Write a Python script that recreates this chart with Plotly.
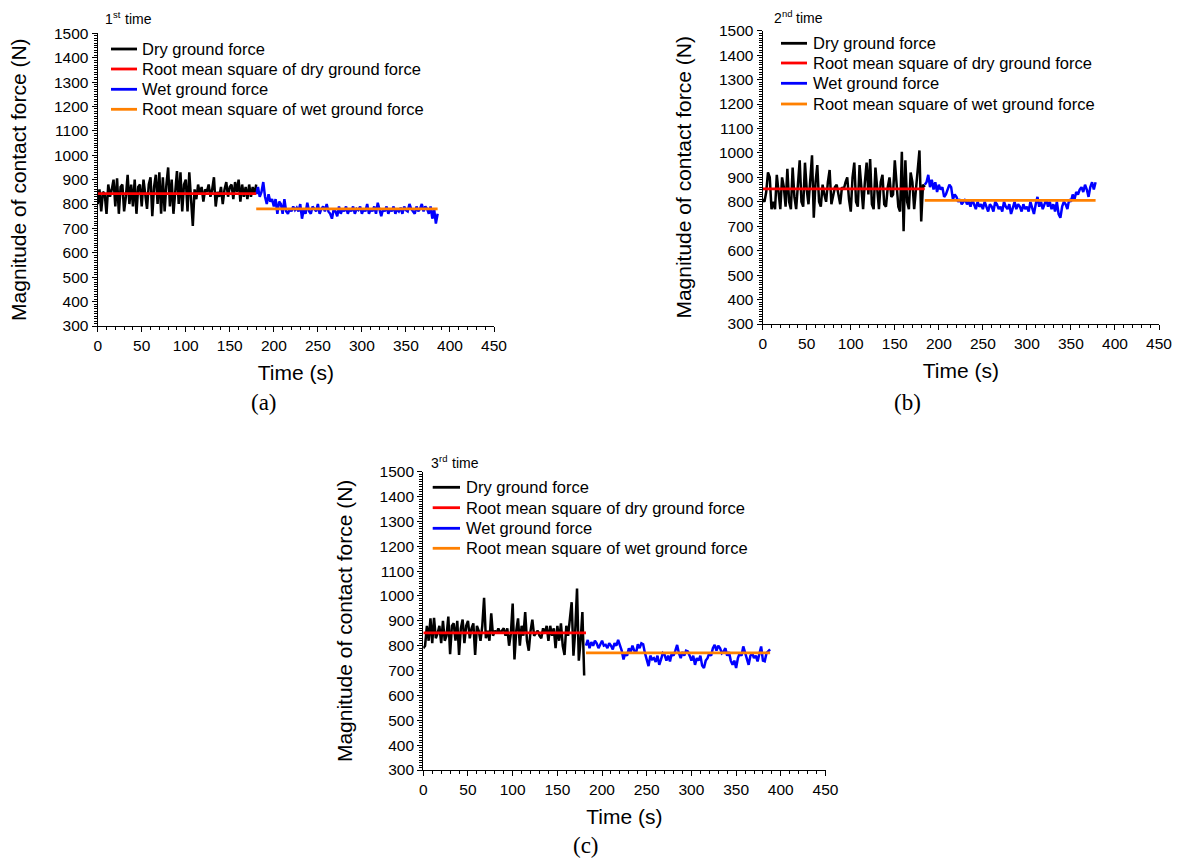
import plotly.graph_objects as go

W, H = 1180, 862
STEP = 2  # sampling interval of the force records (s)

# ---------------- 1st time ----------------
A_DRY_START = 0
A_DRY = [800, 860, 770, 850, 840, 760, 880, 830, 860, 900,
         790, 905, 760, 870, 880, 770, 830, 920, 800, 880,
         790, 900, 760, 870, 880, 790, 900, 830, 780, 880,
         910, 750, 870, 920, 800, 930, 760, 910, 770, 880,
         950, 790, 900, 760, 850, 935, 800, 930, 770, 880,
         900, 770, 930, 800, 710, 860, 820, 880, 840, 870,
         810, 860, 850, 880, 830, 860, 910, 790, 850, 830,
         870, 800, 860, 890, 830, 870, 880, 820, 890, 850,
         900, 810, 880, 830, 870, 820, 880, 830, 870, 840,
         880]
A_WET_START = 180
A_WET = [840, 870, 830, 850, 890, 830, 800, 840, 810, 820,
         790, 820, 760, 810, 800, 760, 820, 770, 760, 780,
         770, 790, 775, 785, 770, 800, 740, 780, 760, 805,
         770, 760, 790, 780, 770, 800, 760, 780, 790, 770,
         800, 770, 760, 740, 780, 770, 750, 790, 760, 780,
         770, 790, 760, 780, 770, 790, 760, 780, 775, 790,
         760, 780, 770, 800, 760, 780, 770, 790, 760, 805,
         770, 750, 780, 770, 790, 760, 780, 770, 790, 760,
         780, 770, 785, 760, 790, 775, 770, 800, 780, 770,
         760, 790, 770, 780, 800, 770, 790, 780, 760, 790,
         740, 780, 720, 760]
A_RMS_DRY = 843
A_RMS_WET = 780

# ---------------- 2nd time ----------------
B_DRY_START = 0
B_DRY = [810, 800, 840, 920, 900, 770, 800, 770, 910, 850,
         770, 900, 860, 780, 935, 800, 770, 940, 820, 770,
         870, 970, 800, 780, 960, 850, 790, 900, 990, 735,
         880, 950, 800, 780, 870, 830, 800, 880, 930, 790,
         820, 860, 870, 830, 790, 860, 850, 880, 900, 810,
         760, 900, 960, 800, 780, 950, 860, 770, 880, 960,
         830, 975, 790, 770, 940, 850, 770, 880, 910, 790,
         780, 860, 900, 820, 830, 970, 880, 780, 760, 1005,
         680, 970, 800, 770, 920, 880, 770, 850, 940, 1010,
         720, 870, 860]
B_WET_START = 184
B_WET = [870, 880, 910, 860, 890, 850, 880, 840, 870, 850,
         860, 820, 830, 850, 870, 860, 810, 830, 820, 800,
         810, 790, 800, 810, 790, 800, 780, 810, 790, 770,
         800, 780, 790, 770, 800, 780, 760, 790, 780, 760,
         800, 790, 770, 780, 760, 800, 780, 770, 790, 750,
         780, 800, 770, 790, 780, 760, 790, 770, 780, 760,
         800, 770, 750, 790, 820, 780, 800, 770, 790, 810,
         780, 800, 770, 790, 760, 800, 750, 735, 780, 800,
         790, 770, 810, 800, 830, 810, 840, 830, 850, 860,
         840, 870, 850, 820, 860, 880, 850, 880]
B_RMS_DRY = 853
B_RMS_WET = 806

# ---------------- 3rd time ----------------
C_DRY_START = 0
C_DRY = [790, 800, 880, 820, 910, 810, 912, 830, 850, 880,
         810, 900, 820, 840, 917, 766, 880, 890, 820, 900,
         763, 870, 905, 810, 880, 900, 830, 870, 890, 763,
         880, 860, 820, 880, 993, 830, 860, 820, 930, 840,
         860, 850, 870, 850, 860, 870, 840, 870, 800, 850,
         970, 745, 860, 910, 800, 880, 840, 935, 820, 780,
         860, 905, 840, 850, 860, 840, 830, 870, 850, 880,
         820, 880, 840, 870, 790, 880, 820, 890, 800, 763,
         880, 840, 910, 975, 760, 860, 1030, 740, 820, 935,
         680]
C_WET_START = 182
C_WET = [800, 823, 790, 815, 800, 820, 810, 790, 805, 820,
         800, 803, 790, 810, 800, 785, 810, 800, 823, 805,
         780, 745, 770, 760, 790, 775, 800, 780, 770, 806,
         790, 810, 806, 770, 740, 718, 760, 745, 750, 735,
         760, 723, 745, 770, 763, 740, 760, 737, 770, 760,
         780, 803, 770, 750, 775, 760, 780, 777, 760, 740,
         760, 723, 750, 740, 760, 720, 710, 740, 750, 770,
         760, 790, 803, 780, 800, 790, 770, 777, 790, 760,
         775, 740, 723, 740, 710, 750, 770, 760, 797, 770,
         740, 723, 760, 770, 750, 760, 737, 770, 797, 740,
         737, 770, 780, 785]
C_RMS_DRY = 852
C_RMS_WET = 771

SERIES_NAMES = ["Dry ground force", "Root mean square of dry ground force",
                "Wet ground force", "Root mean square of wet ground force"]
# run labels: ordinal number, raised suffix, word
RUN_NUMBERS = ["1", "2", "3"]
RUN_SUFFIXES = ["st", "nd", "rd"]
RUN_WORD = "time"
PANEL_TAGS = ["(a)", "(b)", "(c)"]
X_TITLE = "Time (s)"
Y_TITLE = "Magnitude of contact force (N)"

X_RANGE = [0, 450]
Y_RANGE = [300, 1500]

COL_DRY = "#000000"
COL_RMS_DRY = "#FF0000"
COL_WET = "#0000FF"
COL_RMS_WET = "#FF8000"

SANS = "Liberation Sans, Arial, sans-serif"
SERIF = "Liberation Serif, Times New Roman, serif"

LABEL_SIZE = 14
SUFFIX_SIZE = 9.5
# Arial advance widths (em) for the glyphs used in the run labels
ADV = {"1": 0.556, "2": 0.556, "3": 0.556, "s": 0.5, "t": 0.278,
       "n": 0.556, "d": 0.556, "r": 0.333}


def text_width(s, size):
    return sum(ADV[c] for c in s) * size


runs = [
    (A_DRY_START, A_DRY, A_WET_START, A_WET, A_RMS_DRY, A_RMS_WET),
    (B_DRY_START, B_DRY, B_WET_START, B_WET, B_RMS_DRY, B_RMS_WET),
    (C_DRY_START, C_DRY, C_WET_START, C_WET, C_RMS_DRY, C_RMS_WET),
]

# Panel placement in pixels: plot box (left, right, top, bottom)
boxes = [(97.7, 494.0, 33.3, 326.0),
         (762.7, 1159.0, 30.7, 324.0),
         (423.3, 825.5, 471.7, 770.0)]
# decoration positions in pixels
run_label_pos = [(103, 19), (771.5, 18), (429, 463)]
legend_pos = [(111, 137, 140, [49, 69, 89.3, 109.3]),
              (781, 807, 811, [43.3, 63, 83.3, 104]),
              (432.7, 460, 463.5, [487.3, 507.7, 528.3, 548.3])]
tag_pos = [(264, 403), (907, 403), (586, 845)]

DATA_W = 2.5
RMS_W = 2.8


def px(x):
    return x / W


def py(y):
    return 1 - y / H


def note(x, y, text, size, family=SANS, xanchor="left", **kw):
    return dict(x=px(x), y=py(y), xref="paper", yref="paper", text=text,
                showarrow=False, xanchor=xanchor, yanchor="middle",
                font=dict(family=family, size=size, color="black"), **kw)


fig = go.Figure()
annotations = []
shapes = []

for i, (d0, dry, w0, wet, rms_d, rms_w) in enumerate(runs):
    xa = "x" if i == 0 else f"x{i + 1}"
    ya = "y" if i == 0 else f"y{i + 1}"
    t_dry = [d0 + STEP * k for k in range(len(dry))]
    t_wet = [w0 + STEP * k for k in range(len(wet))]

    fig.add_trace(go.Scatter(x=t_dry, y=dry, mode="lines", name=SERIES_NAMES[0],
                             line=dict(color=COL_DRY, width=DATA_W), xaxis=xa, yaxis=ya,
                             showlegend=False))
    fig.add_trace(go.Scatter(x=t_wet, y=wet, mode="lines", name=SERIES_NAMES[2],
                             line=dict(color=COL_WET, width=DATA_W), xaxis=xa, yaxis=ya,
                             showlegend=False))
    fig.add_trace(go.Scatter(x=[t_dry[0], t_wet[0]], y=[rms_d, rms_d], mode="lines",
                             name=SERIES_NAMES[1], line=dict(color=COL_RMS_DRY, width=RMS_W),
                             xaxis=xa, yaxis=ya, showlegend=False))
    fig.add_trace(go.Scatter(x=[t_wet[0], t_wet[-1]], y=[rms_w, rms_w], mode="lines",
                             name=SERIES_NAMES[3], line=dict(color=COL_RMS_WET, width=RMS_W),
                             xaxis=xa, yaxis=ya, showlegend=False))

    l, r, t, b = boxes[i]
    axis_common = dict(showline=True, linecolor="black", linewidth=1.3, mirror=False,
                       ticks="outside", ticklen=5, tickwidth=1.2, tickcolor="black",
                       showgrid=False, zeroline=False, automargin=False,
                       tickfont=dict(family=SANS, size=15.5, color="black"))
    fig.update_layout({
        ("xaxis" if i == 0 else f"xaxis{i + 1}"): dict(
            axis_common, domain=[px(l), px(r)], anchor=ya, range=X_RANGE,
            tick0=0, dtick=50,
            title=dict(text=X_TITLE, standoff=12,
                       font=dict(family=SANS, size=21, color="black")),
            minor=dict(dtick=10, ticks="outside", ticklen=3, tickwidth=1, tickcolor="black")),
        ("yaxis" if i == 0 else f"yaxis{i + 1}"): dict(
            axis_common, domain=[py(b), py(t)], anchor=xa, range=Y_RANGE,
            tick0=0, dtick=100,
            title=dict(text=Y_TITLE, standoff=21,
                       font=dict(family=SANS, size=21, color="black")),
            minor=dict(dtick=10, ticks="outside", ticklen=3, tickwidth=1, tickcolor="black")),
    })

    # run label above the plot: number, raised suffix, word
    rx, ry = run_label_pos[i]
    num, suf = RUN_NUMBERS[i], RUN_SUFFIXES[i]
    sx = rx + text_width(num, LABEL_SIZE) + 0.5
    wx = sx + text_width(suf, SUFFIX_SIZE) + 0.278 * LABEL_SIZE
    annotations.append(note(rx, ry, num, LABEL_SIZE))
    annotations.append(note(sx, ry - 4.5, suf, SUFFIX_SIZE))
    annotations.append(note(wx, ry, RUN_WORD, LABEL_SIZE))

    # legend block
    lx0, lx1, tx, rows = legend_pos[i]
    colors = [COL_DRY, COL_RMS_DRY, COL_WET, COL_RMS_WET]
    for name, col, ry_ in zip(SERIES_NAMES, colors, rows):
        shapes.append(dict(type="line", xref="paper", yref="paper",
                           x0=px(lx0), x1=px(lx1), y0=py(ry_), y1=py(ry_),
                           line=dict(color=col, width=RMS_W)))
        annotations.append(note(tx, ry_, name, 16.5))

    # panel tag
    gx, gy = tag_pos[i]
    annotations.append(note(gx, gy, PANEL_TAGS[i], 23, family=SERIF, xanchor="center"))

fig.update_layout(width=W, height=H, margin=dict(l=0, r=0, t=0, b=0),
                  paper_bgcolor="white", plot_bgcolor="white",
                  showlegend=False, annotations=annotations, shapes=shapes)

# the page body gets no margin so the figure fills the window exactly
fig.write_html("out.html", config={"displayModeBar": False},
               post_script="document.body.style.margin='0';"
                           "document.body.style.overflow='hidden';")
